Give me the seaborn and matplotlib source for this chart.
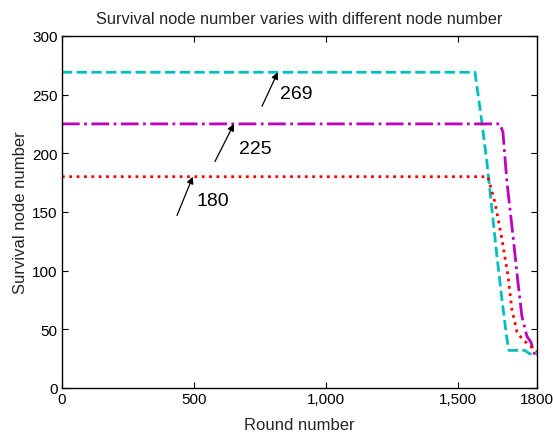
import numpy as np
import pandas as pd
import matplotlib
matplotlib.use('Agg')
import matplotlib.pyplot as plt
import seaborn as sns

sns.set_theme(style='ticks')
plt.rcParams['font.family'] = ['Liberation Sans', 'DejaVu Sans']

# Survival curves (round, alive nodes)
rounds_269 = [0, 1565, 1588, 1610, 1629, 1648, 1667, 1686, 1694, 1754, 1773, 1800]
alive_269 = [269, 269, 232, 193, 153, 113, 76, 42, 32, 32, 29, 29]

rounds_225 = [0, 1660, 1671, 1686, 1709, 1728, 1743, 1762, 1777, 1792, 1800]
alive_225 = [225, 225, 218, 176, 130, 90, 61, 44, 39, 28, 26]

rounds_180 = [0, 1614, 1641, 1667, 1690, 1705, 1724, 1743, 1773, 1800]
alive_180 = [180, 180, 158, 127, 96, 67, 48, 42, 36, 31]

xtick_vals = [0, 500, 1000, 1500, 1800]
xtick_labels = ['0', '500', '1,000', '1,500', '1800']
ytick_vals = [0, 50, 100, 150, 200, 250, 300]

# annotation: label, arrow head, arrow tail, text centre
notes = [
    ('269', (818, 269), (758, 240), (887, 251)),
    ('225', (652, 225), (580, 193), (731, 204)),
    ('180', (496, 180), (436, 147), (572, 160)),
]

fig = plt.figure(figsize=(5.53, 4.39), dpi=100)
ax = fig.add_axes([0.112, 0.114, 0.859, 0.802])

df1 = pd.DataFrame({'round': rounds_269, 'alive': alive_269})
df2 = pd.DataFrame({'round': rounds_225, 'alive': alive_225})
df3 = pd.DataFrame({'round': rounds_180, 'alive': alive_180})

sns.lineplot(data=df1, x='round', y='alive', ax=ax, color='#00BFBF', lw=2, linestyle='--')
sns.lineplot(data=df2, x='round', y='alive', ax=ax, color='#BF00BF', lw=2, linestyle='-.')
sns.lineplot(data=df3, x='round', y='alive', ax=ax, color='#FF0000', lw=2, linestyle=':')

for label, head, tail, txt in notes:
    ax.annotate('', xy=head, xytext=tail,
                arrowprops=dict(arrowstyle='-|>', color='black', lw=0.9,
                                mutation_scale=10, shrinkA=0, shrinkB=0))
    ax.text(txt[0], txt[1], label, fontsize=14, ha='center', va='center', color='black')

ax.set_xlim(0, 1800)
ax.set_ylim(0, 300)
ax.set_xticks(xtick_vals)
ax.set_xticklabels(xtick_labels)
ax.set_yticks(ytick_vals)
ax.tick_params(direction='in', length=4, width=0.8, top=True, right=True,
               labelsize=11, colors='black', pad=3)
for s in ax.spines.values():
    s.set_color('black')
    s.set_linewidth(1.0)

ax.set_xlabel('Round number', fontsize=12, labelpad=8)
ax.set_ylabel('Survival node number', fontsize=12, labelpad=3)
ax.set_title('Survival node number varies with different node number', fontsize=11.8, pad=9)

fig.savefig('out.png', dpi=100)
